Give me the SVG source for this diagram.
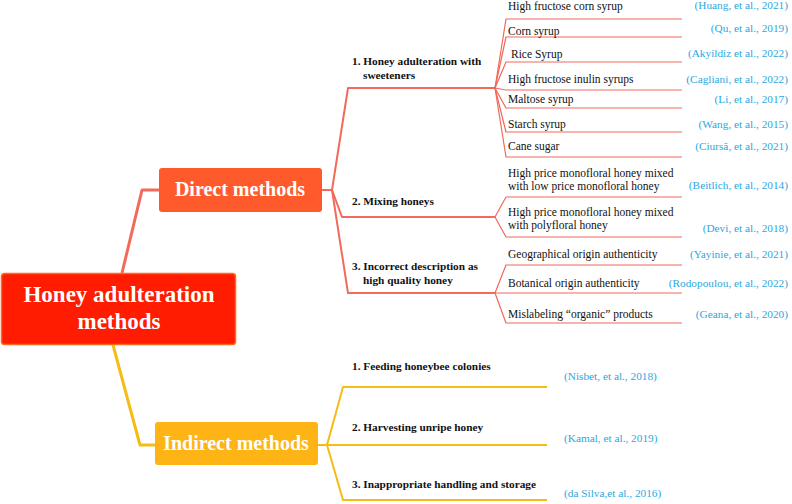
<svg xmlns="http://www.w3.org/2000/svg" width="792" height="504" viewBox="0 0 792 504">
<style>
text{font-family:"Liberation Serif","Times New Roman",serif;}
.c1{fill:none;stroke:#F26A5A;stroke-width:3;stroke-linejoin:round;}
.c2{fill:none;stroke:#F26A5A;stroke-width:2;stroke-linejoin:round;}
.c3{fill:none;stroke:#F0685C;stroke-width:1.2;stroke-linejoin:round;}
.y1{fill:none;stroke:#F6BC16;stroke-width:3;stroke-linejoin:round;}
.y2{fill:none;stroke:#F6BC16;stroke-width:2;stroke-linejoin:round;}
.br{font-size:11.3px;font-weight:bold;fill:#111;}
.lf{font-size:11.5px;fill:#111;}
.ct{font-size:11.3px;fill:#2BA8DE;text-anchor:end;}
.cl{font-size:11.3px;fill:#2BA8DE;}
.big{font-weight:bold;fill:#fff;text-anchor:middle;}
</style>
<rect width="792" height="504" fill="#fff"/>
<g id="connectors">
<polyline class="c1" points="122,273 142,190 159,190"/>
<polyline class="y1" points="113,345 140,445 155,445"/>
<polyline class="c2" points="322,190 332,190 348,88 495,88"/>
<polyline class="c2" points="332,190 342,217 495,217"/>
<polyline class="c2" points="332,190 348,293 495,293"/>
<polyline class="c3" points="495,88 506,19 682,19"/>
<polyline class="c3" points="495,88 506,37 682,37"/>
<polyline class="c3" points="495,88 506,62 682,62"/>
<polyline class="c3" points="495,88 506,90 682,90"/>
<polyline class="c3" points="495,88 506,108 682,108"/>
<polyline class="c3" points="495,88 506,132 682,132"/>
<polyline class="c3" points="495,88 506,157 682,157"/>
<polyline class="c3" points="495,217 506,197 682,197"/>
<polyline class="c3" points="495,217 506,237 682,237"/>
<polyline class="c3" points="495,293 506,265 682,265"/>
<polyline class="c3" points="495,293 682,293"/>
<polyline class="c3" points="495,293 506,323 682,323"/>
<polyline class="y2" points="318,445 327,445 343,387 547,387"/>
<polyline class="y2" points="327,445 547,445"/>
<polyline class="y2" points="327,445 343,500 547,500"/>
</g>
<g id="root">
<rect x="1.5" y="273.5" width="234" height="71" rx="3" fill="#FF1C00" stroke="#FF6A1A" stroke-width="1.5"/>
<text class="big" x="119" y="302" font-size="23">Honey adulteration</text>
<text class="big" x="119" y="329" font-size="23">methods</text>
</g>
<g id="direct">
<rect x="159" y="168" width="163" height="44" rx="3" fill="#FF5A2C"/>
<text class="big" x="240" y="196" font-size="20">Direct methods</text>
</g>
<g id="indirect">
<rect x="155" y="422" width="163" height="43" rx="3" fill="#FDB414"/>
<text class="big" x="236" y="450" font-size="20">Indirect methods</text>
</g>
<g id="branch-d1">
<text class="br" x="352" y="65">1. Honey adulteration with</text>
<text class="br" x="363" y="79">sweeteners</text>
</g>
<g id="branch-d2"><text class="br" x="352" y="205">2. Mixing honeys</text></g>
<g id="branch-d3">
<text class="br" x="352" y="270">3. Incorrect description as</text>
<text class="br" x="363" y="284">high quality honey</text>
</g>
<g id="leaf-1"><text class="lf" x="508" y="10">High fructose corn syrup</text><text class="ct" x="788" y="9">(Huang, et al., 2021)</text></g>
<g id="leaf-2"><text class="lf" x="508" y="35">Corn syrup</text><text class="ct" x="788" y="32">(Qu, et al., 2019)</text></g>
<g id="leaf-3"><text class="lf" x="511" y="58">Rice Syrup</text><text class="ct" x="788" y="57">(Akyildiz et al., 2022)</text></g>
<g id="leaf-4"><text class="lf" x="508" y="83">High fructose inulin syrups</text><text class="ct" x="788" y="83">(Cagliani, et al., 2022)</text></g>
<g id="leaf-5"><text class="lf" x="508" y="103">Maltose syrup</text><text class="ct" x="788" y="103">(Li, et al., 2017)</text></g>
<g id="leaf-6"><text class="lf" x="508" y="128">Starch syrup</text><text class="ct" x="788" y="128">(Wang, et al., 2015)</text></g>
<g id="leaf-7"><text class="lf" x="508" y="150">Cane sugar</text><text class="ct" x="788" y="150">(Ciursă, et al., 2021)</text></g>
<g id="leaf-8"><text class="lf" x="508" y="177">High price monofloral honey mixed</text><text class="lf" x="508" y="190">with low price monofloral honey</text><text class="ct" x="788" y="189">(Beitlich, et al., 2014)</text></g>
<g id="leaf-9"><text class="lf" x="508" y="216">High price monofloral honey mixed</text><text class="lf" x="508" y="229">with polyfloral honey</text><text class="ct" x="788" y="232">(Devi, et al., 2018)</text></g>
<g id="leaf-10"><text class="lf" x="508" y="258">Geographical origin authenticity</text><text class="ct" x="788" y="258">(Yayinie, et al., 2021)</text></g>
<g id="leaf-11"><text class="lf" x="508" y="287">Botanical origin authenticity</text><text class="ct" x="788" y="287">(Rodopoulou, et al., 2022)</text></g>
<g id="leaf-12"><text class="lf" x="508" y="318">Mislabeling “organic” products</text><text class="ct" x="788" y="318">(Geana, et al., 2020)</text></g>
<g id="branch-i1"><text class="br" x="352" y="370">1. Feeding honeybee colonies</text><text class="cl" x="564" y="380">(Nisbet, et al., 2018)</text></g>
<g id="branch-i2"><text class="br" x="352" y="431">2. Harvesting unripe honey</text><text class="cl" x="564" y="442">(Kamal, et al., 2019)</text></g>
<g id="branch-i3"><text class="br" x="352" y="488">3. Inappropriate handling and storage</text><text class="cl" x="564" y="497">(da Silva,et al., 2016)</text></g>
</svg>
